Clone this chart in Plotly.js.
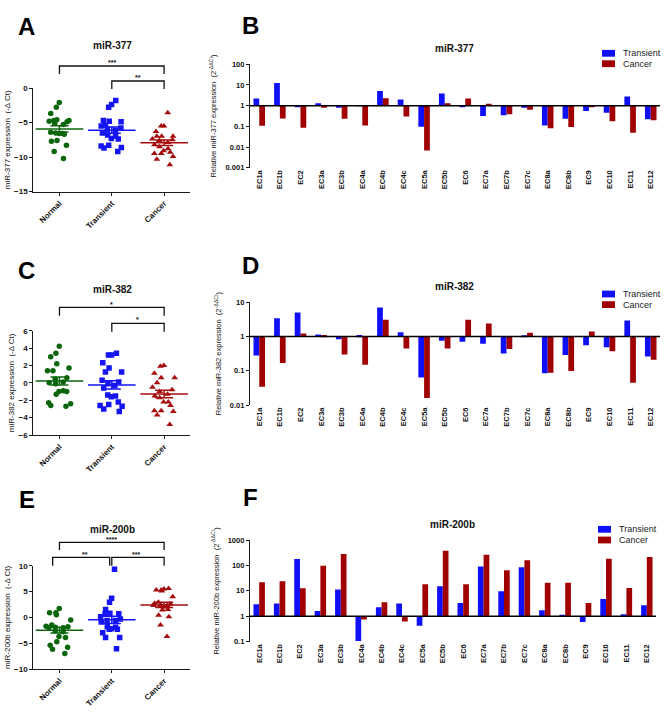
<!DOCTYPE html>
<html><head><meta charset="utf-8">
<script src="https://cdn.plot.ly/plotly-3.0.1.min.js"></script>
<style>html,body{margin:0;padding:0;background:#fff}</style>
</head><body><div id="chart" style="width:669px;height:714px"></div>
<script>
// ---------- DATA ----------
const groups = ['Normal', 'Transient', 'Cancer'];
const ecCategories = ['EC1a','EC1b','EC2','EC3a','EC3b','EC4a','EC4b','EC4c','EC5a','EC5b','EC6','EC7a','EC7b','EC7c','EC8a','EC8b','EC9','EC10','EC11','EC12'];

// -ΔCt values (dot plots)
const miR377_Normal    = [-2.1,-2.8,-3.7,-4.6,-4.8,-5.1,-5.3,-4.7,-4.9,-4.7,-6.6,-6.5,-6.7,-6.6,-6.4,-7.7,-7.6,-8.3,-9.2,-10.2];
const miR377_Transient = [-1.8,-2.4,-2.8,-4.8,-4.9,-5.4,-4.7,-5.5,-5.8,-6.0,-6.1,-6.5,-6.8,-7.0,-7.3,-7.4,-8.3,-8.4,-8.6,-8.7,-9.2];
const miR377_Cancer    = [-3.6,-5.5,-5.5,-6.3,-7.0,-7.0,-7.0,-7.4,-7.5,-7.6,-7.9,-8.2,-8.5,-8.8,-9.1,-9.3,-9.5,-9.5,-9.9,-10.3,-11.1];

const miR382_Normal    = [4.2,3.4,3.0,2.2,1.7,1.4,1.4,0.6,0.4,0.1,0.0,-0.1,-0.9,-1.0,-1.0,-1.3,-2.3,-2.4,-2.6,-2.7];
const miR382_Transient = [3.4,3.2,3.2,2.3,1.7,1.25,1.25,0.3,0.1,-0.1,-0.3,-0.6,-1.4,-1.5,-1.6,-2.2,-2.5,-2.6,-2.7,-3.0,-3.3];
const miR382_Cancer    = [2.0,1.9,1.1,0.6,0.6,0.0,-0.5,-0.8,-1.0,-1.3,-1.5,-1.7,-2.2,-2.2,-2.6,-3.2,-3.3,-3.2,-3.7,-4.8];

const miR200b_Normal    = [1.7,0.9,0.9,0.5,-0.5,-1.5,-1.7,-1.9,-2.0,-2.0,-1.8,-2.6,-2.8,-3.7,-3.9,-4.7,-5.4,-5.8,-6.2,-7.0];
const miR200b_Transient = [9.3,3.7,2.9,1.5,0.8,0.7,0.7,0.1,-0.3,-0.6,-0.6,-0.9,-1.8,-2.2,-2.3,-2.3,-1.9,-3.0,-3.9,-3.9,-6.1];
const miR200b_Cancer    = [5.6,5.5,5.3,5.3,5.1,4.0,2.9,2.7,2.6,2.4,2.3,2.3,2.2,2.1,2.0,1.5,1.4,0.4,0.1,-1.5,-3.7];

// Relative expression 2^-ΔΔCt (bar charts)
const miR377_TransientFold = [2.2,12.5,0.92,1.3,0.8,0.95,5.1,2.0,0.096,3.9,0.93,0.32,0.34,0.8,0.11,0.23,0.55,0.46,2.8,0.22];
const miR377_CancerFold    = [0.107,0.24,0.086,0.8,0.23,0.11,2.26,0.3,0.0068,1.3,2.2,1.25,0.38,0.64,0.08,0.093,0.9,0.175,0.049,0.195];
const miR382_TransientFold = [0.28,3.4,5.0,1.15,0.83,1.1,7.1,1.34,0.064,0.75,0.71,0.62,0.32,1.05,0.085,0.29,0.56,0.49,2.95,0.26];
const miR382_CancerFold    = [0.034,0.17,1.22,1.1,0.3,0.15,3.1,0.45,0.016,0.45,3.1,2.4,0.43,1.28,0.087,0.098,1.4,0.37,0.045,0.21];
const miR200b_TransientFold = [2.96,3.15,180,1.6,11.2,0.107,2.26,3.15,0.42,15,3.3,90,9.6,85,1.72,1.16,0.6,4.8,1.2,2.7];
const miR200b_CancerFold    = [21.7,23.8,12.6,98,283,0.74,3.55,0.62,18,380,18,265,64,158,21,21,3.3,185,13,215];

// ---------- STYLE / LAYOUT ----------
const W = 669, H = 714;
const X = p => p / W, Y = p => 1 - p / H;
const FONT = 'Arial, "Liberation Sans", sans-serif';
const groupColors = ['#0b650b', '#1414f5', '#a50d0d'];
const groupSymbols = ['circle', 'square', 'triangle-up'];
const groupSizes = [5.5, 5.5, 6];
const barColors = {Transient: '#1010f8', Cancer: '#a00000'};
const AXC = '#1a1a1a';

const dotPanels = [
  {n: 1, letter: 'A', title: 'miR-377', yTitle: 'miR-377 expression  (-Δ Ct)', data: [miR377_Normal, miR377_Transient, miR377_Cancer],
   range: [-15, 0], dtick: 5, top: 88, bot: 191.6, titleY: 45, letterY: 27,
   brackets: [{x0: 0, x1: 2, y: 66, y2: 74, label: '***', lx: 1, ly: 62}, {x0: 1, x1: 2, y: 81, y2: 89, label: '**', lx: 1.5, ly: 77}]},
  {n: 3, letter: 'C', title: 'miR-382', yTitle: 'miR-382 expression  (-Δ Ct)', data: [miR382_Normal, miR382_Transient, miR382_Cancer],
   range: [-6, 6], dtick: 2, top: 330.7, bot: 435, titleY: 289.3, letterY: 270,
   brackets: [{x0: 0, x1: 2, y: 307.3, y2: 315.7, label: '*', lx: 1, ly: 304}, {x0: 1, x1: 2, y: 323.3, y2: 331.7, label: '*', lx: 1.5, ly: 319.5}]},
  {n: 5, letter: 'E', title: 'miR-200b', yTitle: 'miR-200b expression  (-Δ Ct)', data: [miR200b_Normal, miR200b_Transient, miR200b_Cancer],
   range: [-10, 10], dtick: 5, top: 565.7, bot: 669, titleY: 529.5, letterY: 500,
   brackets: [{x0: 0, x1: 2, y: 542.3, y2: 550, label: '****', lx: 1, ly: 539.5},
              {x0: -0.13, x1: 0.96, y: 557.3, y2: 565.7, label: '**', lx: 0.48, ly: 554},
              {x0: 1.0, x1: 2, y: 557.3, y2: 565.7, label: '***', lx: 1.47, ly: 554}]}
];

const barPanels = [
  {n: 2, letter: 'B', title: 'miR-377', yTitle: 'Relative miR-377 expression  (2<sup>-ΔΔCt</sup>)', t: miR377_TransientFold, c: miR377_CancerFold,
   range: [-3, 2], top: 64.3, bot: 167.7, left: 250, right: 660, titleY: 49, letterY: 26, legX: 602, legY: [53.3, 63.7]},
  {n: 4, letter: 'D', title: 'miR-382', yTitle: 'Relative miR-382 expression  (2<sup>-ΔΔCt</sup>)', t: miR382_TransientFold, c: miR382_CancerFold,
   range: [-2, 1], top: 302.3, bot: 405, left: 250, right: 660, titleY: 286.7, letterY: 265, legX: 602, legY: [294, 304.6]},
  {n: 6, letter: 'F', title: 'miR-200b', yTitle: 'Relative miR-200b expression  (2<sup>-ΔΔCt</sup>)', t: miR200b_TransientFold, c: miR200b_CancerFold,
   range: [-1, 3], top: 540, bot: 641.7, left: 250, right: 656, titleY: 524.3, letterY: 497, legX: 598, legY: [529.3, 540]}
];

const traces = [];
const layout = {
  width: W, height: H, margin: {l: 0, r: 0, t: 0, b: 0},
  paper_bgcolor: '#fff', plot_bgcolor: '#fff', showlegend: false,
  font: {family: FONT, color: '#111'},
  barmode: 'group', bargap: 0.44, bargroupgap: 0,
  shapes: [], annotations: []
};

const mean = a => a.reduce((s, v) => s + v, 0) / a.length;
const sem = a => { const m = mean(a); return Math.sqrt(a.reduce((s, v) => s + (v - m) * (v - m), 0) / (a.length - 1)) / Math.sqrt(a.length); };

function letterAnn(txt, x, y) {
  layout.annotations.push({text: txt, xref: 'paper', yref: 'paper', x: X(x), y: Y(y), xanchor: 'center', yanchor: 'middle',
    showarrow: false, font: {size: 24, weight: 'bold', family: FONT, color: '#000'}});
}
function titleAnn(txt, x, y) {
  layout.annotations.push({text: txt, xref: 'paper', yref: 'paper', x: X(x), y: Y(y), xanchor: 'center', yanchor: 'middle',
    showarrow: false, font: {size: 10, weight: 'bold', family: FONT, color: '#111'}});
}

// dot plots
dotPanels.forEach(p => {
  const xa = 'x' + p.n, ya = 'y' + p.n;
  layout['xaxis' + p.n] = {domain: [X(33.3), X(190.3)], anchor: ya, type: 'category', categoryarray: groups, categoryorder: 'array',
    range: [-0.5, 2.5], showline: true, linecolor: AXC, linewidth: 1.2, ticks: 'outside', ticklen: 3, tickcolor: AXC, tickwidth: 1,
    tickangle: -45, tickfont: {size: 8, weight: 'bold', family: FONT, color: '#111'}, showgrid: false, zeroline: false, fixedrange: true};
  layout['yaxis' + p.n] = {domain: [Y(p.bot), Y(p.top)], anchor: xa, range: p.range, dtick: p.dtick, showline: true, linecolor: AXC, linewidth: 1.2,
    ticks: 'outside', ticklen: 3, tickcolor: AXC, tickwidth: 1, showgrid: false, zeroline: false,
    tickfont: {size: 8, weight: 'bold', family: FONT, color: '#111'},
    title: {text: p.yTitle, font: {size: 8, family: FONT, color: '#111'}, standoff: 2}};
  p.data.forEach((vals, g) => {
    traces.push({type: 'box', x: vals.map(() => groups[g]), y: vals, xaxis: xa, yaxis: ya, name: groups[g],
      boxpoints: 'all', jitter: 1, pointpos: 0, width: 0.55, fillcolor: 'rgba(0,0,0,0)', whiskerwidth: 0,
      line: {width: 0, color: 'rgba(0,0,0,0)'}, hoveron: 'points',
      marker: {symbol: groupSymbols[g], size: groupSizes[g], color: groupColors[g], line: {width: 0}}});
    traces.push({type: 'scatter', mode: 'markers', x: [groups[g]], y: [mean(vals)], xaxis: xa, yaxis: ya, name: groups[g] + ' mean ± SEM',
      marker: {symbol: 'line-ew', size: 34, color: groupColors[g], line: {width: 1.5, color: groupColors[g]}},
      error_y: {type: 'data', array: [sem(vals)], width: 9, thickness: 1.5, color: groupColors[g]}});
  });
  p.brackets.forEach(b => {
    layout.shapes.push({type: 'path', xref: xa, yref: 'paper', line: {color: '#111', width: 1.3},
      path: `M ${b.x0},${Y(b.y2)} L ${b.x0},${Y(b.y)} L ${b.x1},${Y(b.y)} L ${b.x1},${Y(b.y2)}`});
    layout.annotations.push({text: b.label, xref: xa, yref: 'paper', x: b.lx, y: Y(b.ly), xanchor: 'center', yanchor: 'middle',
      showarrow: false, font: {size: 7, weight: 'bold', family: FONT, color: '#111'}});
  });
  titleAnn(p.title, 112.3, p.titleY);
  letterAnn(p.letter, 26.7, p.letterY);
});

// bar charts
barPanels.forEach(p => {
  const xa = 'x' + p.n, ya = 'y' + p.n;
  layout['xaxis' + p.n] = {domain: [X(p.left), X(p.right)], anchor: ya, type: 'category', categoryarray: ecCategories, categoryorder: 'array',
    range: [-0.45, 19.45], showline: false, ticks: '', tickangle: -90, showgrid: false, zeroline: false,
    tickfont: {size: 7.5, weight: 'bold', family: FONT, color: '#111'}, fixedrange: true};
  layout['yaxis' + p.n] = {domain: [Y(p.bot), Y(p.top)], anchor: xa, type: 'log', range: p.range, dtick: 1, showline: true,
    linecolor: AXC, linewidth: 1.2, ticks: 'outside', ticklen: 3, tickcolor: AXC, tickwidth: 1, showgrid: false, zeroline: false,
    tickfont: {size: 7.5, weight: 'bold', family: FONT, color: '#111'},
    title: {text: p.yTitle, font: {size: 7.5, family: FONT, color: '#111'}, standoff: 7}};
  [['Transient', p.t], ['Cancer', p.c]].forEach(([nm, vals]) => {
    traces.push({type: 'bar', name: nm, x: ecCategories, y: vals.map(v => v - 1), base: vals.map(() => 1), customdata: vals,
      hovertemplate: '%{x}: %{customdata}<extra>' + nm + '</extra>', xaxis: xa, yaxis: ya,
      marker: {color: barColors[nm], line: {width: 0}}});
  });
  // baseline at fold change = 1
  layout.shapes.push({type: 'line', xref: xa + ' domain', yref: ya, x0: 0, x1: 1, y0: 1, y1: 1, line: {color: '#000', width: 1.5}});
  // legend
  ['Transient', 'Cancer'].forEach((nm, i) => {
    const cy = p.legY[i];
    layout.shapes.push({type: 'rect', xref: 'paper', yref: 'paper', x0: X(p.legX), x1: X(p.legX + 13), y0: Y(cy - 3.4), y1: Y(cy + 3.4),
      fillcolor: barColors[nm], line: {width: 0}});
    layout.annotations.push({text: nm, xref: 'paper', yref: 'paper', x: X(p.legX + 19), y: Y(cy), xanchor: 'left', yanchor: 'middle',
      showarrow: false, font: {size: 9, family: FONT, color: '#222'}});
  });
  titleAnn(p.title, (p.left + p.right) / 2 - 1, p.titleY);
  letterAnn(p.letter, 250, p.letterY);
});

Plotly.newPlot('chart', traces, layout, {displayModeBar: false, staticPlot: false});
</script>
</body></html>
